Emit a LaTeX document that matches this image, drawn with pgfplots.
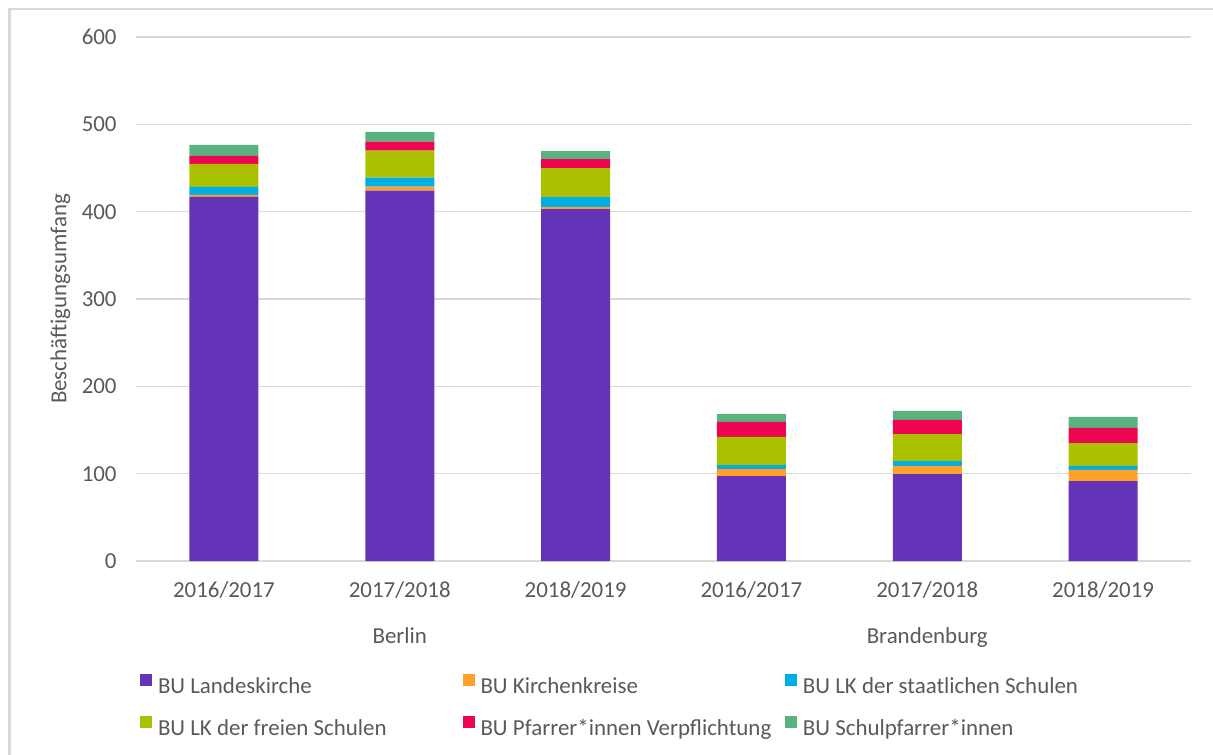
\documentclass[border=0pt]{standalone}
\usepackage{fontspec}
\setmainfont{Carlito}
\usepackage{pgfplots}
\pgfplotsset{compat=1.18}
\definecolor{cLK}{HTML}{6433B8}
\definecolor{cKK}{HTML}{FFA02A}
\definecolor{cST}{HTML}{00AEE6}
\definecolor{cFR}{HTML}{ABC000}
\definecolor{cPF}{HTML}{EE0552}
\definecolor{cSP}{HTML}{59B37E}
\definecolor{gridgray}{HTML}{D9D9D9}
\definecolor{textgray}{HTML}{595959}
\newcommand{\lfont}{\fontsize{11.5}{13.8}\selectfont}
\newcommand{\lentry}[1]{\makebox[152.25bp][l]{#1}}
\begin{document}
\lfont
\begin{tikzpicture}
\useasboundingbox (0,0) rectangle (606.5bp,377.5bp);
\draw[color=gridgray, line width=1.3bp] (4.75bp,0) -- (4.75bp,373bp) -- (606.5bp,373bp);
\begin{axis}[
  at={(68bp,97bp)}, anchor=south west,
  scale only axis, width=527.5bp, height=262bp,
  ybar stacked, bar width=34.5bp,
  xmin=-0.5, xmax=5.5, ymin=0, ymax=600,
  ytick={0,100,...,600},
  xtick={0,...,5},
  xticklabels={2016/2017,2017/2018,2018/2019,2016/2017,2017/2018,2018/2019},
  extra x ticks={-0.5,2.5,5.5},
  extra x tick labels={},
  extra x tick style={major tick length=45bp, tick align=outside, tick style={draw=gridgray, line width=0.6bp}, grid=none},
  xtick style={draw=none},
  ytick style={draw=none},
  axis line style={draw=none},
  ymajorgrids, grid style={draw=gridgray, line width=0.6bp},
  tick label style={font=\lfont, text=textgray},
  /pgf/number format/assume math mode=true,
  yticklabel style={anchor=east, inner sep=0pt, xshift=-9.5bp},
  xticklabel style={anchor=base, inner sep=0pt, yshift=-18.4bp},
  ylabel={Beschäftigungsumfang},
  ylabel style={at={(axis description cs:-0.0716,0.5)}, anchor=center, inner sep=0pt, font=\lfont, text=textgray},
  legend columns=3,
  legend cell align=left,
  legend style={at={(axis description cs:0,0)}, anchor=north west, xshift=2bp, yshift=-56.5bp,
    draw=none, fill=none, inner sep=0pt, outer sep=0pt, row sep=9bp,
    nodes={inner sep=0pt, text=textgray, font=\lfont, text height=8.5bp, text depth=2.5bp},
    /tikz/every odd column/.append style={column sep=3bp},
    /tikz/every even column/.append style={column sep=0bp}},
  legend image code/.code={\fill[#1] (0bp,0.5bp) rectangle (6bp,6.5bp);},
  clip=false,
]
\addplot[fill=cLK, draw=none] coordinates {(0,417) (1,424) (2,403) (3,97.3) (4,99.6) (5,91.6)};
\addlegendentry{\lentry{BU Landeskirche}}
\addplot[fill=cKK, draw=none] coordinates {(0,2.3) (1,4.6) (2,2.3) (3,8.0) (4,9.2) (5,12.6)};
\addlegendentry{\lentry{BU Kirchenkreise}}
\addplot[fill=cST, draw=none] coordinates {(0,9.2) (1,10.3) (2,11.4) (3,4.6) (4,5.7) (5,4.6)};
\addlegendentry{\lentry{BU LK der staatlichen Schulen}}
\addplot[fill=cFR, draw=none] coordinates {(0,26.3) (1,30.9) (2,33.2) (3,32.1) (4,30.9) (5,26.3)};
\addlegendentry{\lentry{BU LK der freien Schulen}}
\addplot[fill=cPF, draw=none] coordinates {(0,9.1) (1,10.3) (2,10.3) (3,17.2) (4,16.1) (5,17.2)};
\addlegendentry{\lentry{BU Pfarrer*innen Verpflichtung}}
\addplot[fill=cSP, draw=none] coordinates {(0,12.6) (1,11.4) (2,9.2) (3,9.1) (4,10.3) (5,12.6)};
\addlegendentry{\lentry{BU Schulpfarrer*innen}}
\node[text=textgray, font=\lfont, anchor=base, inner sep=0pt] at (axis cs:1,0) [yshift=-41.45bp] {Berlin};
\node[text=textgray, font=\lfont, anchor=base, inner sep=0pt] at (axis cs:4,0) [yshift=-41.45bp] {Brandenburg};
\end{axis}
\end{tikzpicture}
\end{document}
